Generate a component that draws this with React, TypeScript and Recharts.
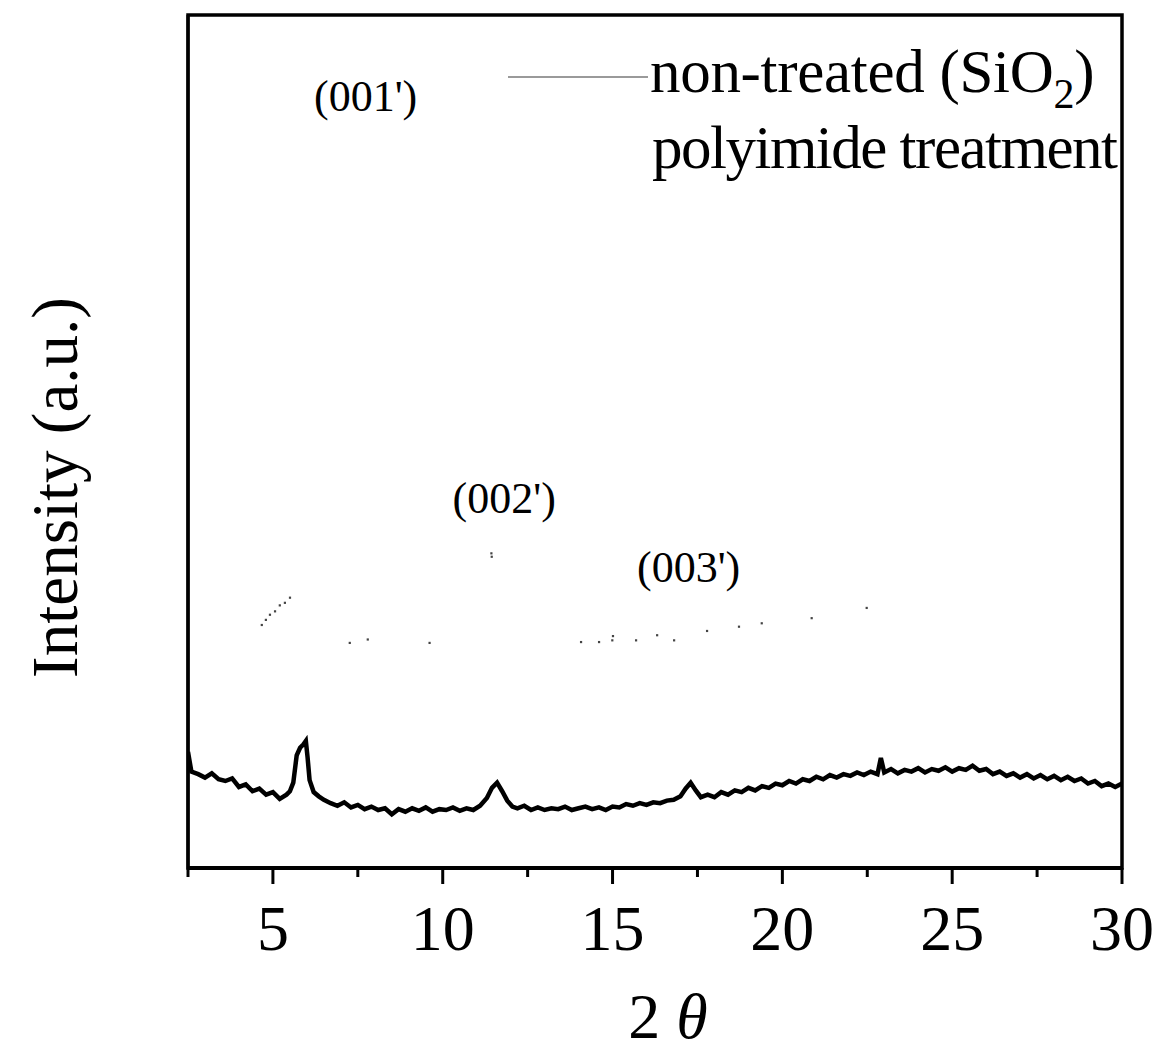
import React from "react";
import {
  ComposedChart,
  Line,
  Scatter,
  XAxis,
  YAxis,
  ReferenceDot,
  ReferenceArea,
} from "recharts";

// polyimide treatment trace (2θ, intensity a.u.)
const polyTheta = [
  2.5, 2.6, 2.8, 3.0, 3.2, 3.4, 3.6, 3.8, 4.0, 4.2, 4.4, 4.6, 4.8, 5.0, 5.2, 5.4, 5.5, 5.6, 5.7, 5.8,
  5.9, 5.97, 6.02, 6.08, 6.2, 6.35, 6.5, 6.7, 6.9, 7.1, 7.3, 7.5, 7.7, 7.9, 8.1, 8.3, 8.5, 8.7, 8.9, 9.1,
  9.3, 9.5, 9.7, 9.9, 10.1, 10.3, 10.5, 10.7, 10.9, 11.1, 11.3, 11.45, 11.6, 11.75, 11.9, 12.05, 12.2, 12.4, 12.6, 12.8,
  13.0, 13.2, 13.4, 13.6, 13.8, 14.0, 14.2, 14.4, 14.6, 14.8, 15.0, 15.2, 15.4, 15.6, 15.8, 16.0, 16.2, 16.4, 16.6, 16.8,
  17.0, 17.15, 17.3, 17.45, 17.6, 17.8, 18.0, 18.2, 18.4, 18.6, 18.8, 19.0, 19.2, 19.4, 19.6, 19.8, 20.0, 20.2, 20.4, 20.6,
  20.8, 21.0, 21.2, 21.4, 21.6, 21.8, 22.0, 22.2, 22.4, 22.6, 22.8, 22.9, 23.0, 23.2, 23.4, 23.6, 23.8, 24.0, 24.2, 24.4,
  24.6, 24.8, 25.0, 25.2, 25.4, 25.6, 25.8, 26.0, 26.2, 26.4, 26.6, 26.8, 27.0, 27.2, 27.4, 27.6, 27.8, 28.0, 28.2, 28.4,
  28.6, 28.8, 29.0, 29.2, 29.4, 29.6, 29.8, 30.0,
];
const polyIntensity = [
  13.6, 11.3, 11.0, 10.6, 11.1, 10.4, 10.2, 10.5, 9.5, 9.8, 9.0, 9.3, 8.6, 8.9, 8.1, 8.6, 9.0, 10.0, 13.2, 14.1,
  14.5, 14.9, 13.0, 10.3, 8.9, 8.4, 8.0, 7.6, 7.3, 7.7, 7.1, 7.4, 6.9, 7.2, 6.8, 7.0, 6.3, 6.9, 6.6, 7.0,
  6.7, 7.1, 6.6, 6.9, 6.8, 7.1, 6.7, 7.0, 6.8, 7.3, 8.2, 9.4, 10.0, 9.0, 7.9, 7.2, 7.0, 7.3, 6.8, 7.1,
  6.8, 7.0, 6.9, 7.2, 6.8, 7.0, 7.2, 6.9, 7.1, 6.8, 7.2, 7.1, 7.5, 7.3, 7.6, 7.4, 7.7, 7.6, 7.9, 8.0,
  8.4, 9.3, 10.0, 9.1, 8.3, 8.6, 8.3, 8.9, 8.6, 9.1, 8.9, 9.4, 9.1, 9.6, 9.4, 9.9, 9.7, 10.2, 9.9, 10.4,
  10.2, 10.7, 10.4, 10.9, 10.6, 11.0, 10.8, 11.2, 10.9, 11.3, 11.0, 12.9, 11.2, 11.6, 11.1, 11.5, 11.3, 11.7, 11.2, 11.6,
  11.4, 11.8, 11.3, 11.7, 11.5, 12.0, 11.4, 11.6, 11.0, 11.3, 10.8, 11.1, 10.6, 11.0, 10.5, 10.9, 10.4, 10.8, 10.3, 10.7,
  10.2, 10.5, 9.9, 10.2, 9.6, 9.9, 9.5, 9.9,
];

// non-treated (SiO2): only scattered fragments survive in the scan
const sioTheta = [4.67, 4.79, 4.91, 5.06, 5.2, 5.35, 5.5, 7.26, 7.79, 9.61, 11.43, 11.44, 14.07, 14.6, 14.99, 15.01, 15.69, 16.31, 16.81, 17.78, 18.72, 19.39, 20.86, 22.48];
const sioIntensity = [28.5, 29.1, 29.7, 30.1, 30.8, 31.1, 31.7, 26.4, 26.8, 26.4, 36.9, 36.5, 26.5, 26.5, 26.7, 27.2, 26.7, 27.3, 26.7, 27.8, 28.3, 28.7, 29.3, 30.5];

const xTicks = [2.5, 5, 7.5, 10, 12.5, 15, 17.5, 20, 22.5, 25, 27.5, 30];

const peakNames = ["(001')", "(002')", "(003')"];
const peakTheta = [7.73, 11.81, 17.24];
const peakLevel = [90.6, 43.4, 35.4];

const polyData = polyTheta.map((x, i) => ({ x, v: polyIntensity[i] }));
const sioData = sioTheta.map((x, i) => ({ x, v: sioIntensity[i] }));

const serif = "'Liberation Serif', 'Times New Roman', serif";

function XTick({ x, y, payload }: any) {
  const major = payload.value % 5 === 0;
  return (
    <g>
      <line x1={x} x2={x} y1={y} y2={y + (major ? 16 : 9)} stroke="#000" strokeWidth={3} />
      {major && (
        <text x={x} y={y + 82} textAnchor="middle" fontSize={64} fontFamily={serif} fill="#000">
          {payload.value}
        </text>
      )}
    </g>
  );
}

function XLabel({ viewBox }: any) {
  const cx = viewBox.x + viewBox.width / 2 + 13;
  return (
    <text x={cx} y={viewBox.y + 170} textAnchor="middle" fontSize={64} fontFamily={serif} fill="#000">
      2 <tspan fontStyle="italic">θ</tspan>
    </text>
  );
}

function YLabel({ viewBox }: any) {
  const cx = 55;
  const cy = viewBox.y + viewBox.height / 2 + 46;
  return (
    <text
      x={cx}
      y={cy}
      transform={`rotate(-90 ${cx} ${cy})`}
      textAnchor="middle"
      dominantBaseline="central"
      fontSize={65}
      fontFamily={serif}
      fill="#000"
    >
      Intensity (a.u.)
    </text>
  );
}

// legend drawn as an overlay so it does not shrink the plot area
function LegendBox() {
  return (
    <svg width={1170} height={200} style={{ position: "absolute", left: 0, top: 0, pointerEvents: "none" }}>
      <line x1={508} x2={648} y1={77} y2={77} stroke="#9a9a9a" strokeWidth={2} />
      <text x={650} y={92} fontSize={61} fontFamily={serif} fill="#000" letterSpacing={-0.3}>
        non-treated (SiO<tspan dy={16} fontSize={42}>2</tspan>
        <tspan dy={-16}>)</tspan>
      </text>
      <text x={652} y={168} fontSize={61} fontFamily={serif} fill="#000" letterSpacing={-1.5}>
        polyimide treatment
      </text>
    </svg>
  );
}

const Dot = ({ cx, cy }: any) => <rect x={cx - 1} y={cy - 1} width={2.2} height={2.2} fill="#444" />;

export default function App() {
  return (
    <div style={{ position: "absolute", left: 0, top: 0, width: 1170, height: 1063, background: "#fff" }}>
      <ComposedChart width={1170} height={1063} margin={{ top: 15, right: 48, bottom: 0, left: 187 }}>
        <XAxis
          xAxisId="b"
          dataKey="x"
          type="number"
          domain={[2.5, 30]}
          ticks={xTicks}
          interval={0}
          allowDataOverflow
          height={195}
          tickSize={0}
          tickMargin={0}
          tickLine={false}
          tick={<XTick />}
          axisLine={{ stroke: "#000", strokeWidth: 4 }}
          label={<XLabel />}
        />
        <YAxis
          yAxisId="l"
          dataKey="v"
          type="number"
          domain={[0, 100]}
          width={1}
          tick={false}
          tickLine={false}
          axisLine={{ stroke: "#000", strokeWidth: 3 }}
          label={<YLabel />}
        />
        <ReferenceArea
          xAxisId="b"
          yAxisId="l"
          x1={2.5}
          x2={30}
          y1={0}
          y2={100}
          fill="none"
          stroke="#000"
          strokeWidth={3.5}
          ifOverflow="visible"
        />
        <Scatter
          name="non-treated (SiO2)"
          data={sioData}
          xAxisId="b"
          yAxisId="l"
          dataKey="v"
          fill="#444"
          shape={<Dot />}
          isAnimationActive={false}
        />
        <Line
          name="polyimide treatment"
          data={polyData}
          xAxisId="b"
          yAxisId="l"
          dataKey="v"
          type="linear"
          stroke="#000"
          strokeWidth={4.5}
          dot={false}
          isAnimationActive={false}
        />
        {peakNames.map((name, i) => (
          <ReferenceDot
            key={name}
            xAxisId="b"
            yAxisId="l"
            x={peakTheta[i]}
            y={peakLevel[i]}
            r={0}
            ifOverflow="visible"
            label={{ value: name, position: "center", fontSize: 44, fontFamily: serif, fill: "#000" }}
          />
        ))}
      </ComposedChart>
      <LegendBox />
    </div>
  );
}
